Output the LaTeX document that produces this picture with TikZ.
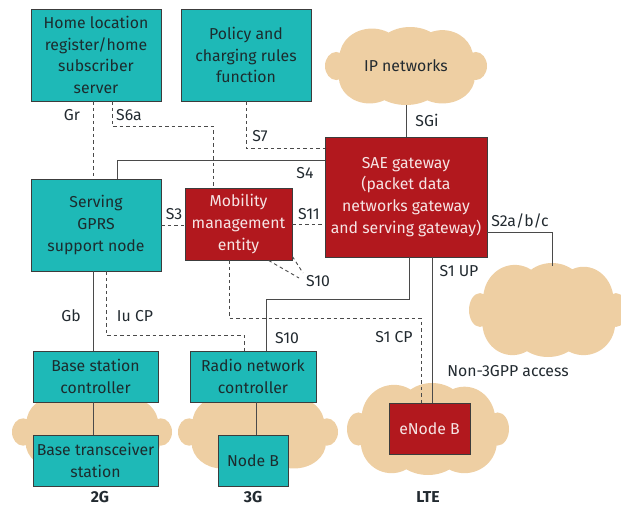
\documentclass[tikz,border=0pt]{standalone}
\usepackage{fontspec}
\setmainfont{Fira Sans}
\definecolor{tealc}{HTML}{1EB9B7}
\definecolor{redc}{HTML}{B2181E}
\definecolor{cloudc}{HTML}{EECFA3}
\definecolor{boxline}{HTML}{3C3C3C}
\definecolor{linec}{HTML}{4A4A4A}
\definecolor{tealtext}{HTML}{1C2C2E}
\definecolor{redtext}{HTML}{F6E4E4}
\definecolor{labelc}{HTML}{222A30}
\newcommand\dgfont{\fontsize{15.8}{21.8}\selectfont}
\newcommand\mycloud[4]{%
  \begin{scope}[shift={(#1,#2)},xscale=#3/2,yscale=#4]
    \fill[cloudc]
      (0,0) ellipse [x radius=0.78, y radius=0.42]
      (-0.42,-0.12) ellipse [x radius=0.4, y radius=0.36]
      (0.05,-0.18) ellipse [x radius=0.42, y radius=0.32]
      (0.45,-0.1) ellipse [x radius=0.38, y radius=0.36]
      (-0.45,0.14) ellipse [x radius=0.38, y radius=0.34]
      (0,0.18) ellipse [x radius=0.45, y radius=0.32]
      (0.45,0.14) ellipse [x radius=0.4, y radius=0.34]
      (-0.86,0) ellipse [x radius=0.14, y radius=0.18]
      (0.86,0) ellipse [x radius=0.14, y radius=0.18];
  \end{scope}}
\tikzset{
  tealbox/.style={draw=boxline, fill=tealc, text=tealtext, line width=0.8pt,
    align=center, inner sep=0pt, font=\dgfont},
  redbox/.style={draw=boxline, fill=redc, text=redtext, line width=0.8pt,
    align=center, inner sep=0pt, font=\dgfont},
  conn/.style={draw=linec, line width=0.9pt},
  dconn/.style={conn, dash pattern=on 3.5pt off 3pt},
  lbl/.style={font=\dgfont, text=labelc, inner sep=0pt},
  gen/.style={font=\dgfont\bfseries, text=labelc, inner sep=0pt},
}
\begin{document}
\begin{tikzpicture}[x=1pt,y=-1pt]
\useasboundingbox (0,0) rectangle (621,509);
% clouds
\mycloud{406}{66}{162}{78}
\mycloud{548}{310}{158}{94}
\mycloud{428}{429}{162}{92}
\mycloud{92}{432}{160}{76}
\mycloud{258}{432}{160}{76}
\node[lbl] (ip) at (406,66) {IP networks};
\coordinate (ipb) at (406,105);
\coordinate (n3top) at (552,266);
% boxes
\node[tealbox, minimum width=130pt, minimum height=92pt] (hlr) at (96,55)
  {Home location\\register/home\\subscriber\\server};
\node[tealbox, minimum width=130pt, minimum height=92pt] (pcrf) at (246,55)
  {Policy and\\charging rules\\function};
\node[redbox, minimum width=162pt, minimum height=120pt] (sae) at (406,197)
  {SAE gateway\\(packet data\\networks gateway\\and serving gateway)};
\node[tealbox, minimum width=130pt, minimum height=92pt] (sgsn) at (96,225)
  {Serving\\GPRS\\support node};
\node[redbox, minimum width=107pt, minimum height=72pt] (mme) at (238.5,224)
  {Mobility\\management\\entity};
\node[tealbox, minimum width=125pt, minimum height=51pt] (bsc) at (95.5,376.5)
  {Base station\\controller};
\node[tealbox, minimum width=125pt, minimum height=51pt] (bts) at (95.5,460.5)
  {Base transceiver\\station};
\node[tealbox, minimum width=126pt, minimum height=51pt] (rnc) at (253,376.5)
  {Radio network\\controller};
\node[tealbox, minimum width=70pt, minimum height=51pt] (nodeb) at (253,460.5)
  {Node B};
\node[redbox, minimum width=81pt, minimum height=51pt] (enb) at (429.5,428.5)
  {eNode B};
% connectors
\draw[conn] (ipb) -- (sae.north);
\draw[dconn] ([xshift=-3pt]hlr.south) -- ([xshift=-3pt]sgsn.north);
\draw[dconn] ([xshift=16pt]hlr.south) -- ++(0,25) -| ([xshift=-25.5pt]mme.north);
\draw[dconn] (pcrf.south) |- ([yshift=49pt]sae.west);
\draw[conn] ([xshift=21pt]sgsn.north) |- ([yshift=37pt]sae.west);
\draw[dconn] (sgsn.east) -- (sgsn.east -| mme.west);
\draw[dconn] (mme.east) -- (mme.east -| sae.west);
\coordinate (s10a) at (299,278);
\coordinate (s10b) at (303,273);
\draw[dconn] ([xshift=30pt]mme.south) -- (s10a);
\draw[dconn] ([yshift=4pt]mme.south east) -- (s10b);
\draw[conn] ([xshift=-3pt]sgsn.south) -- ([xshift=-2.5pt]bsc.north);
\draw[dconn] ([xshift=10pt]sgsn.south) -- ++(0,64) -| ([xshift=-9pt]rnc.north);
\draw[dconn] ([xshift=-9.5pt]mme.south) -- ++(0,58) -| ([xshift=-8.5pt]enb.north);
\draw[conn] ([xshift=3pt]sae.south) -- ++(0,42) -| ([xshift=13pt]rnc.north);
\draw[conn] ([xshift=26pt]sae.south) -- ([xshift=2.5pt]enb.north);
\draw[conn] ([yshift=-35pt]sae.east) -| (n3top);
\draw[conn] ([xshift=-2.5pt]bsc.south) -- ([xshift=-2.5pt]bts.north);
\draw[conn] ([xshift=3pt]rnc.south) -- ([xshift=3pt]nodeb.north);
% labels
\node[lbl] (lGr) at (72,115) {Gr};
\node[lbl] (lS6a) at (129,115) {S6a};
\node[lbl] (lS7) at (260,136) {S7};
\node[lbl] (lS4) at (305,173) {S4};
\node[lbl] (lSGi) at (427,120) {SGi};
\node[lbl] (lS3) at (174,214) {S3};
\node[lbl] (lS11) at (309,214) {S11};
\node[lbl] (lS2) at (520,221) {S2a/b/c};
\node[lbl] (lS1UP) at (459,271) {S1 UP};
\node[lbl] (lS10a) at (318,281) {S10};
\node[lbl] (lGb) at (71,316) {Gb};
\node[lbl] (lIu) at (135,316) {Iu CP};
\node[lbl] (lS10b) at (287,338) {S10};
\node[lbl] (lS1CP) at (394,337) {S1 CP};
\node[lbl] (lN3) at (508,371) {Non-3GPP access};
\node[gen] (g2) at (100,497) {2G};
\node[gen] (g3) at (253,497) {3G};
\node[gen] (glte) at (428,497) {LTE};
\end{tikzpicture}
\end{document}
